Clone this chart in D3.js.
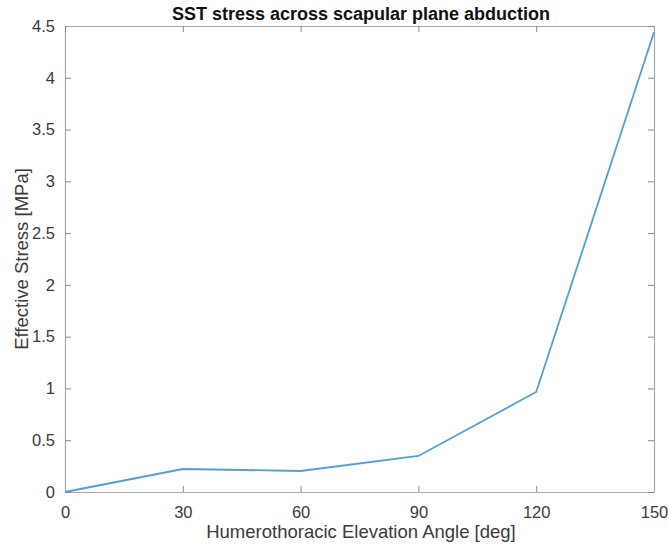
<!DOCTYPE html>
<html>
<head>
<meta charset="utf-8">
<script src="https://cdn.jsdelivr.net/npm/d3@7"></script>
<style>
  body { margin: 0; background: #fff; }
  text { font-family: "Liberation Sans", Arial, sans-serif; }
</style>
</head>
<body>
<script>
// datos
const angulos = [0, 30, 60, 90, 120, 150];
const esfuerzo = [0, 0.222, 0.203, 0.348, 0.966, 4.44];
const ticksX = [0, 30, 60, 90, 120, 150];
const ticksY = [0, 0.5, 1, 1.5, 2, 2.5, 3, 3.5, 4, 4.5];

const W = 668, H = 546;
const m = { left: 65, right: 14, top: 26, bottom: 54 };

const svg = d3.select("body").append("svg").attr("width", W).attr("height", H);

const x = d3.scaleLinear().domain([0, 150]).range([m.left, W - m.right]);
const y = d3.scaleLinear().domain([0, 4.5]).range([H - m.bottom, m.top]);

const colorTexto = "#3a3a3a";

// ejes abajo / izquierda con ticks hacia dentro
const ejeX = svg.append("g").attr("transform", `translate(0,${H - m.bottom})`)
  .call(d3.axisBottom(x).tickValues(ticksX).tickSizeInner(-6).tickSizeOuter(0).tickPadding(14));
const ejeY = svg.append("g").attr("transform", `translate(${m.left},0)`)
  .call(d3.axisLeft(y).tickValues(ticksY).tickSizeInner(-6).tickSizeOuter(0).tickPadding(10).tickFormat(d3.format("")));
// ejes arriba / derecha (box on)
const ejeX2 = svg.append("g").attr("transform", `translate(0,${m.top})`)
  .call(d3.axisTop(x).tickValues(ticksX).tickSizeInner(-6).tickSizeOuter(0).tickFormat(""));
const ejeY2 = svg.append("g").attr("transform", `translate(${W - m.right},0)`)
  .call(d3.axisRight(y).tickValues(ticksY).tickSizeInner(-6).tickSizeOuter(0).tickFormat(""));

[ejeX, ejeY, ejeX2, ejeY2].forEach(g => {
  g.selectAll("path").attr("stroke", "#a8a8a8").attr("stroke-width", 1.2);
  g.selectAll("line").attr("stroke", "#8a8a8a");
  g.selectAll("text").attr("fill", colorTexto).attr("font-size", 16.5)
    .attr("font-family", "'Liberation Sans', Arial, sans-serif");
});

// linea de datos
const linea = d3.line().x((d, i) => x(angulos[i])).y(d => y(d));
svg.append("path")
  .datum(esfuerzo)
  .attr("d", linea)
  .attr("fill", "none")
  .attr("stroke", "#4f9fd9")
  .attr("stroke-width", 1.8);

// titulo y etiquetas
svg.append("text")
  .attr("x", 361).attr("y", 20)
  .attr("text-anchor", "middle")
  .attr("font-size", 18).attr("font-weight", "bold").attr("fill", "#111")
  .text("SST stress across scapular plane abduction");

svg.append("text")
  .attr("x", 361).attr("y", 538)
  .attr("text-anchor", "middle")
  .attr("font-size", 18.5).attr("fill", colorTexto)
  .text("Humerothoracic Elevation Angle [deg]");

svg.append("text")
  .attr("transform", `translate(28,${(m.top + H - m.bottom) / 2}) rotate(-90)`)
  .attr("text-anchor", "middle")
  .attr("font-size", 18.5).attr("fill", colorTexto)
  .text("Effective Stress [MPa]");
</script>
</body>
</html>
